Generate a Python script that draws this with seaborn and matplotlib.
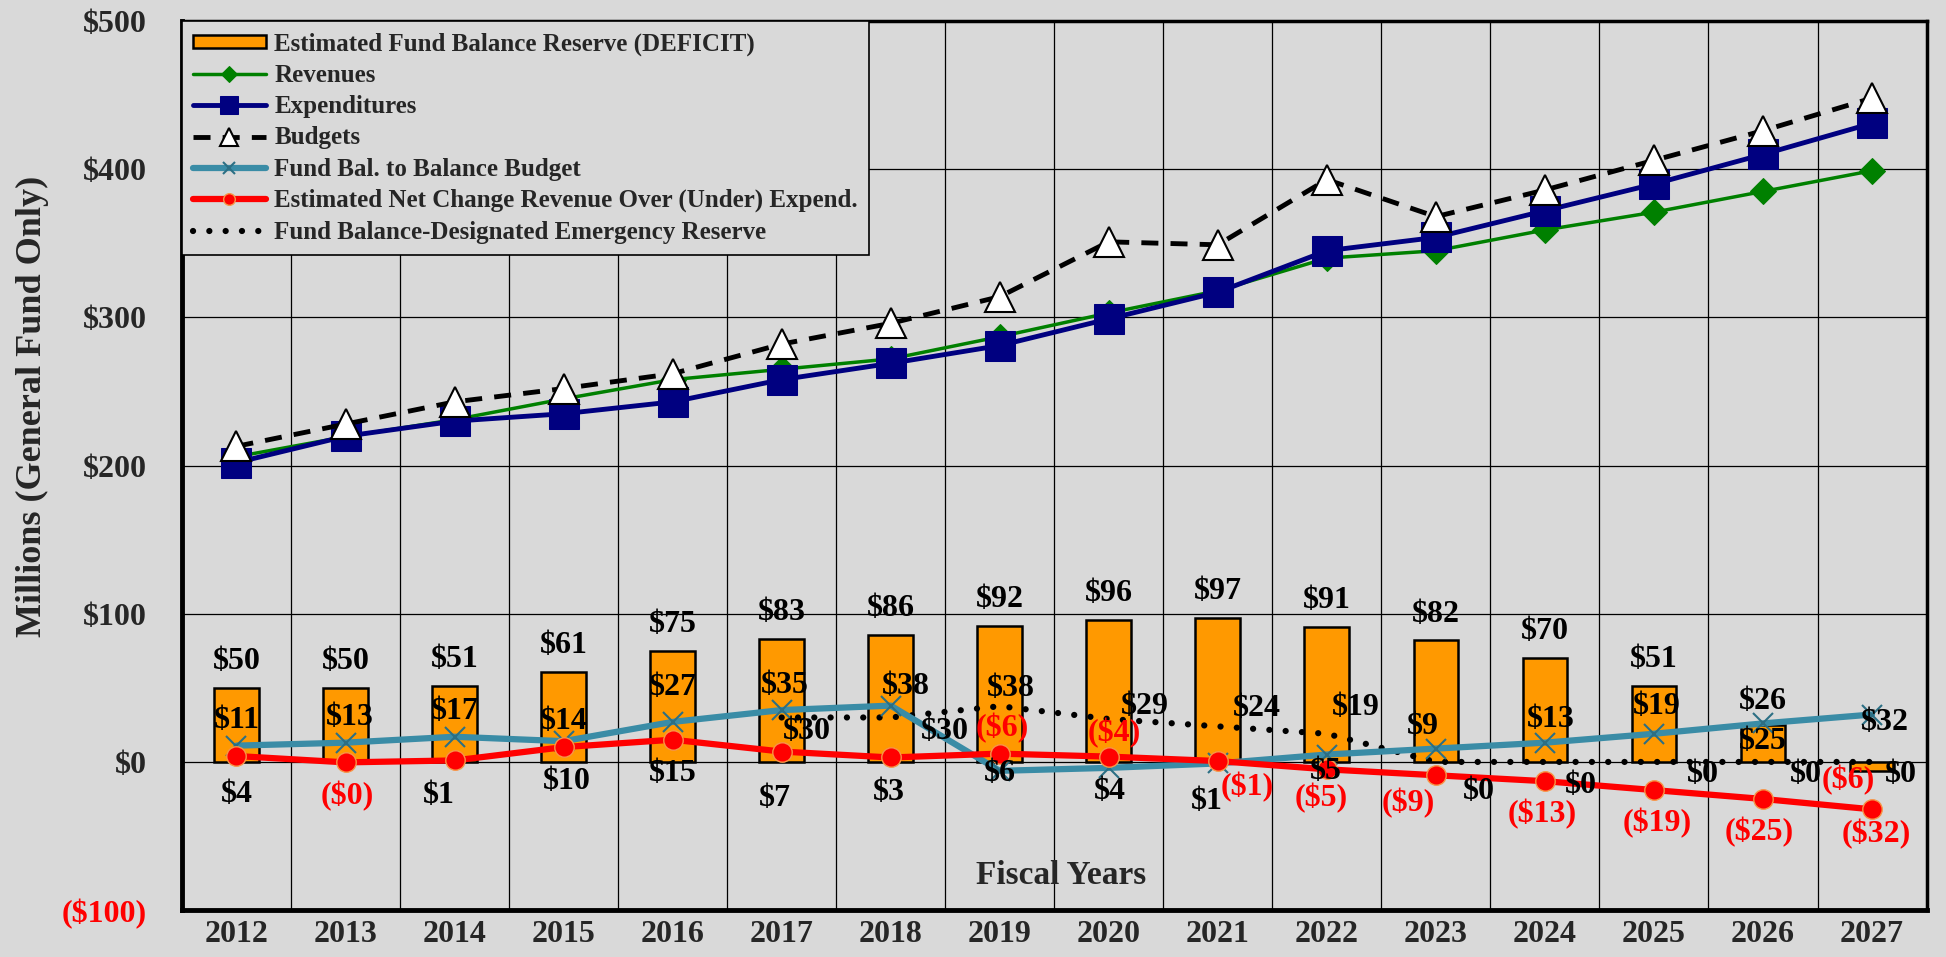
import numpy as np
import seaborn as sns
import matplotlib.pyplot as plt
from matplotlib.patches import Patch

# Fiscal years and series (millions, general fund only)
years = [str(y) for y in range(2012, 2028)]
reserve = [50, 50, 51, 61, 75, 83, 86, 92, 96, 97, 91, 82, 70, 51, 25, -6]
revenues = [206, 219.5, 231, 245, 258, 265, 272, 287, 303, 318, 340, 345, 359, 371, 385, 399]
expenditures = [202, 219.8, 230, 235, 243, 258, 269, 281, 299, 317, 345, 354, 372, 390, 410, 431]
budgets = [213, 228, 243, 252, 262, 282, 296, 314, 351, 349, 393, 368, 386, 406, 426, 448]
fund_bal = [11, 13, 17, 14, 27, 35, 38, -6, -4, -1, 5, 9, 13, 19, 26, 32]
net_change = [4, -0.3, 1, 10, 15, 7, 3, 5.6, 3.6, 0.6, -5, -9, -13, -19, -25, -32]
emergency_years = years[5:]
emergency = [30, 30, 37.6, 29, 24, 19, 0, 0, 0, 0, 0]

# label offsets (points) so the labels sit where they do in the original
bar_off = [(0, 19)] * 14 + [(0, -12), (-17, -7)]
fund_off = [(0, 18), (3, 18), (0, 18), (0, 14), (0, 25), (2, 18), (11, 14), (2, 31),
            (4, 25), (21, -17), (-1, -12), (-9, 16), (4, 17), (2, 20), (0, 16), (9, -6)]
net_off = [(0, -28), (1, -24), (-11, -25), (2, -25), (0, -24), (-5, -34), (-1, -25), (0, -14),
           (1, -25), (-8, -29), (-4, -21), (-20, -20), (-2, -24), (2, -24), (-3, -24), (3, -18)]
emerg_off = [(18, -10), (39, -10), (8, 13), (26, 9), (28, 13), (21, 19),
             (31, -21), (26, -17), (35, -9), (31, -9), (21, -9)]

BG = "#D9D9D9"
sns.set_style("white", rc={"axes.facecolor": BG, "figure.facecolor": BG})
plt.rcParams["font.family"] = ["Liberation Serif", "DejaVu Serif"]
plt.rcParams["font.weight"] = "bold"

fig = plt.figure(figsize=(19.46, 9.57), dpi=100)
ax = fig.add_axes([0.0935, 0.049, 0.8965, 0.929])

x = np.arange(len(years))
x_em = x[5:]

# Bars
sns.barplot(x=x, y=reserve, native_scale=True, color="#FF9900", saturation=1,
            edgecolor="black", linewidth=1.8, width=0.41, ax=ax, zorder=3)

# Lines
sns.lineplot(x=x, y=revenues, ax=ax, color="#008000", lw=2.5, marker="D", markersize=13,
             markeredgecolor="#008000", label="Revenues", zorder=5)
sns.lineplot(x=x, y=expenditures, ax=ax, color="#000080", lw=3.5, marker="s", markersize=21,
             markeredgecolor="#000080", label="Expenditures", zorder=6)
sns.lineplot(x=x, y=budgets, ax=ax, color="black", lw=3.5, linestyle=(0, (3.5, 2.5)),
             marker="^", markersize=21, markerfacecolor="white", markeredgecolor="black",
             markeredgewidth=1.5, label="Budgets", zorder=7)
sns.lineplot(x=x, y=fund_bal, ax=ax, color="#3A8CA6", lw=4.5, marker="x", markersize=15,
             markeredgecolor="#2C6F84", markeredgewidth=1.5,
             label="Fund Bal. to Balance Budget", zorder=6)
sns.lineplot(x=x, y=net_change, ax=ax, color="#FF0000", lw=4.5, marker="o", markersize=14,
             markerfacecolor="#FF0000", markeredgecolor="#F79646", markeredgewidth=1,
             label="Estimated Net Change Revenue Over (Under) Expend.", zorder=7)
sns.lineplot(x=x_em, y=emergency, ax=ax, color="black", lw=4.5, linestyle=(0, (0.01, 2.6)),
             dash_capstyle="round", label="Fund Balance-Designated Emergency Reserve", zorder=5)


def money(v):
    return f"${v:,.0f}" if v >= 0 else f"(${-v:,.0f})"


def put_labels(xs, vals, offs):
    for xi, v, off in zip(xs, vals, offs):
        ax.annotate(money(v), (xi, v), xytext=off, textcoords="offset points",
                    ha="center", va="center", fontsize=23, fontweight="bold",
                    color="red" if v < 0 else "black", zorder=9)


put_labels(x, reserve, bar_off)
put_labels(x, fund_bal, fund_off)
put_labels(x, net_change, net_off)
put_labels(x_em, emergency, emerg_off)

# Axes styling
ax.set_xlim(-0.5, len(years) - 0.5)
ax.set_ylim(-100, 500)
yt = list(range(-100, 501, 100))
ax.set_yticks(yt, [money(v) for v in yt])
ax.get_yticklabels()[0].set_color("red")
ax.set_xticks(x, years)
ax.set_xticks(np.arange(0.5, len(years) - 1, 1), minor=True)
ax.tick_params(axis="both", which="both", length=0, labelsize=23)
ax.tick_params(axis="y", pad=25)
ax.tick_params(axis="x", pad=7)
ax.set_axisbelow(True)
ax.grid(axis="y", which="major", color="black", lw=0.9)
ax.grid(axis="x", which="minor", color="black", lw=0.9)
ax.grid(axis="x", which="major", visible=False)
for s in ax.spines.values():
    s.set_visible(True)
    s.set_color("black")
    s.set_linewidth(2.5)
ax.spines["left"].set_linewidth(3.5)
ax.spines["bottom"].set_linewidth(3.5)

ax.set_xlabel("")
ax.set_ylabel("Millions (General Fund Only)", fontsize=26, fontweight="bold")
ax.yaxis.set_label_coords(-0.076, 0.567)
ax.text(0.504, 0.039, "Fiscal Years", transform=ax.transAxes, ha="center", va="center",
        fontsize=24, fontweight="bold")

# Legend: bar patch first, then the lines
handles, labels = ax.get_legend_handles_labels()
bar_handle = Patch(facecolor="#FF9900", edgecolor="black", linewidth=1.8)
leg = ax.legend([bar_handle] + handles, ["Estimated Fund Balance Reserve (DEFICIT)"] + labels,
                loc="upper left", bbox_to_anchor=(0, 1), borderaxespad=0, frameon=True,
                fancybox=False, edgecolor="black", facecolor=BG, framealpha=1,
                fontsize=18, handlelength=2.9, handleheight=0.45, handletextpad=0.35,
                labelspacing=0.33, borderpad=0.45, markerscale=0.6)
leg.get_frame().set_linewidth(1.2)
leg.set_zorder(10)

fig.savefig("out.png", dpi=100, facecolor=BG)
